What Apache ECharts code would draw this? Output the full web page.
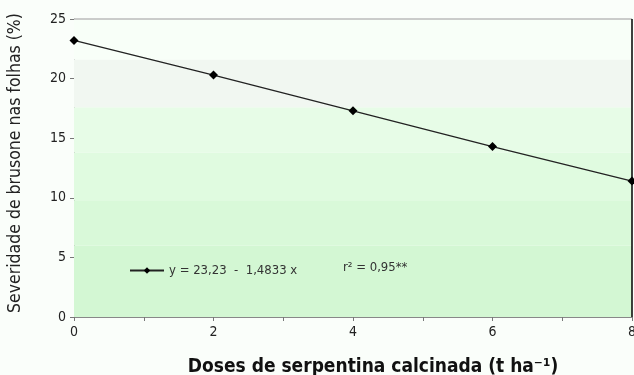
<!DOCTYPE html>
<html><head><meta charset="utf-8">
<script src="https://cdn.jsdelivr.net/npm/echarts@6/dist/echarts.min.js"></script>
<style>html,body{margin:0;padding:0;background:#fafefa;}#c{width:634px;height:375px;}</style>
</head><body><div id="c"></div>
<script>
var doses = [0, 2, 4, 6, 8];
var severidade = [23.2, 20.3, 17.3, 14.3, 11.4];
var yTicks = [0, 5, 10, 15, 20, 25];
var xTicks = [0, 2, 4, 6, 8];
var bandEdges = [0, 6.0, 9.8, 13.8, 17.6, 21.6, 25];
var bandColors = ['#d3f7d3', '#d9f9d9', '#e0fbe0', '#e7fce7', '#f1f7f1', '#f8fff8'];
var eqText = 'y = 23,23  -  1,4833 x';
var r2Text = 'r\u00b2 = 0,95**';

var font = '"Liberation Sans Narrow", "DejaVu Sans Condensed", sans-serif';
var bands = [];
for (var i = 0; i < bandColors.length; i++) {
  bands.push([{yAxis: bandEdges[i], itemStyle: {color: bandColors[i]}}, {yAxis: bandEdges[i + 1]}]);
}
var chart = echarts.init(document.getElementById('c'));
chart.setOption({
  backgroundColor: '#fafefa',
  animation: false,
  grid: {left: 74, right: 2, top: 19, bottom: 58, containLabel: false, outerBoundsMode: 'none'},
  legend: {
    left: 124, top: 259, itemWidth: 34, itemHeight: 8, itemGap: 10,
    textStyle: {fontFamily: font, fontSize: 13, color: '#333'},
    data: [{name: eqText}]
  },
  graphic: [
    {type: 'text', left: 343, top: 261, z: 100, style: {text: r2Text, font: '13px ' + font, fill: '#333'}},
    {type: 'line', z: 100, shape: {x1: 632, y1: 19, x2: 632, y2: 317}, style: {stroke: '#000', lineWidth: 1.5}}
  ],
  xAxis: {
    type: 'value', min: 0, max: 8, interval: 1,
    name: 'Doses de serpentina calcinada (t ha\u207b\u00b9)',
    nameLocation: 'middle', nameGap: 41,
    nameTextStyle: {fontFamily: font, fontSize: 19, fontWeight: 'bold', color: '#111', padding: [0, 0, 0, 40]},
    axisLine: {lineStyle: {color: '#888'}},
    axisTick: {show: true, length: 4, lineStyle: {color: '#777'}},
    axisLabel: {fontFamily: font, fontSize: 14, color: '#222', margin: 8,
      formatter: function (v) { return xTicks.indexOf(v) >= 0 ? String(v) : ''; }},
    splitLine: {show: false}
  },
  yAxis: {
    type: 'value', min: 0, max: 25, interval: 5,
    name: 'Severidade de brusone nas folhas (%)',
    nameLocation: 'middle', nameGap: 50,
    nameTextStyle: {fontFamily: font, fontSize: 17.5, color: '#222', padding: [0, 0, 0, 10]},
    axisLine: {show: true, lineStyle: {color: '#888'}},
    axisTick: {show: true, length: 4, lineStyle: {color: '#777'}},
    axisLabel: {fontFamily: font, fontSize: 14, color: '#222', margin: 8,
      formatter: function (v) { return yTicks.indexOf(v) >= 0 ? String(v) : ''; }},
    splitLine: {show: false}
  },
  series: [{
    name: eqText,
    type: 'line',
    data: doses.map(function (d, i) { return [d, severidade[i]]; }),
    symbol: 'diamond', symbolSize: 9,
    lineStyle: {color: '#222', width: 1.3},
    itemStyle: {color: '#000'},
    markArea: {silent: true, data: bands},
    markLine: {silent: true, symbol: 'none', label: {show: false},
      lineStyle: {color: '#bbb', type: 'solid', width: 1.5},
      data: [{yAxis: 25}]},
    z: 5
  }]
});
</script></body></html>
